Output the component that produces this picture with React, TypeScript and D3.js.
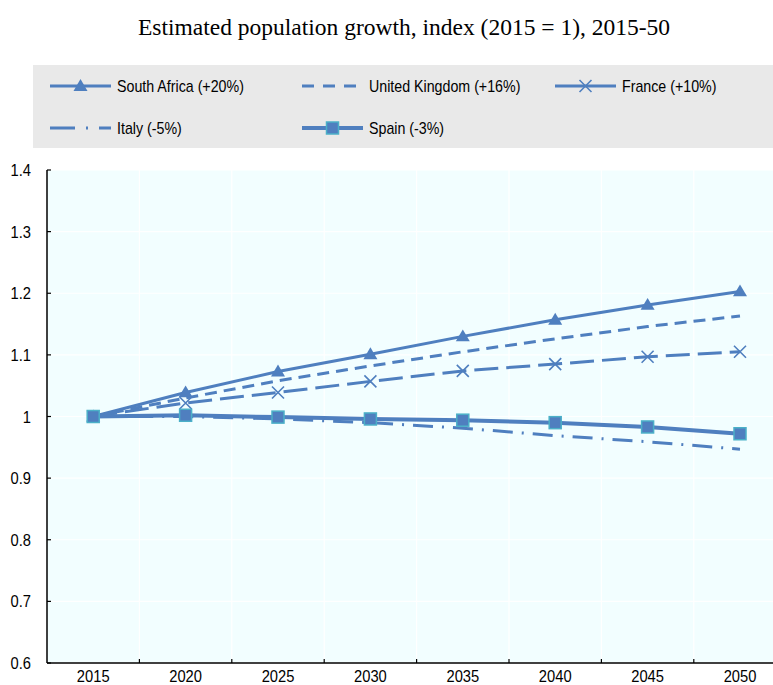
import React from "react";
import * as d3 from "d3";

const years = ["2015", "2020", "2025", "2030", "2035", "2040", "2045", "2050"];
const southAfrica = [1.0, 1.039, 1.073, 1.101, 1.13, 1.157, 1.181, 1.203];
const unitedKingdom = [1.0, 1.03, 1.058, 1.082, 1.105, 1.126, 1.146, 1.163];
const france = [1.0, 1.022, 1.039, 1.057, 1.074, 1.085, 1.097, 1.105];
const italy = [1.0, 1.0, 0.996, 0.99, 0.981, 0.969, 0.959, 0.947];
const spain = [1.0, 1.002, 0.999, 0.996, 0.994, 0.99, 0.983, 0.972];
const yTicks = [0.6, 0.7, 0.8, 0.9, 1, 1.1, 1.2, 1.3, 1.4];

const BLUE = "#4f7fbf";
const CYAN = "#4bb0c8";

type Marker = "triangle" | "x" | "square" | "none";
const series: { name: string; values: number[]; dash: string; marker: Marker; width: number; legendDash: string }[] = [
  { name: "South Africa (+20%)", values: southAfrica, dash: "", marker: "triangle", width: 3, legendDash: "" },
  { name: "United Kingdom (+16%)", values: unitedKingdom, dash: "12,7", marker: "none", width: 3, legendDash: "12,9" },
  { name: "France (+10%)", values: france, dash: "24,8", marker: "x", width: 3, legendDash: "" },
  { name: "Italy (-5%)", values: italy, dash: "20,9,2,9", marker: "none", width: 3, legendDash: "25,11,2,11" },
  { name: "Spain (-3%)", values: spain, dash: "", marker: "square", width: 4, legendDash: "" },
];

function MarkerShape({ type, x, y }: { type: Marker; x: number; y: number }) {
  if (type === "triangle") {
    const s = 7;
    return <path d={`M${x},${y - s}L${x + s},${y + s * 0.7}L${x - s},${y + s * 0.7}Z`} fill={BLUE} />;
  }
  if (type === "x") {
    const s = 6;
    return (
      <path d={`M${x - s},${y - s}L${x + s},${y + s}M${x - s},${y + s}L${x + s},${y - s}`} stroke={BLUE} strokeWidth={1.6} fill="none" />
    );
  }
  if (type === "square") {
    return <rect x={x - 6} y={y - 6} width={12} height={12} fill={BLUE} stroke={CYAN} strokeWidth={1.5} />;
  }
  return null;
}

function NText({ x, y, children, anchor = "start", size = 16, sx = 0.89 }: { x: number; y: number; children: React.ReactNode; anchor?: string; size?: number; sx?: number }) {
  return (
    <text transform={`translate(${x},${y}) scale(${sx},1)`} textAnchor={anchor} fontSize={size} fill="#000">
      {children}
    </text>
  );
}

export default function App() {
  const W = 773;
  const H = 685;
  const left = 47;
  const top = 170;
  const bottom = 663;
  const x = d3.scaleBand<string>().domain(years).range([left, left + 8 * 92.4]);
  const y = d3.scaleLinear().domain([0.6, 1.4]).range([bottom, top]);
  const cx = (yr: string) => (x(yr) as number) + x.bandwidth() / 2;
  const line = d3
    .line<number>()
    .x((_, i) => cx(years[i]))
    .y((d) => y(d));

  const legendPos = [
    { lx: 50, ty: 86 },
    { lx: 302, ty: 86 },
    { lx: 555, ty: 86 },
    { lx: 50, ty: 128 },
    { lx: 302, ty: 128 },
  ];

  return (
    <svg width={W} height={H} style={{ position: "absolute", left: 0, top: 0 }} fontFamily="'Liberation Sans', Arial, sans-serif">
      <text x={404} y={35} textAnchor="middle" fontFamily="'Liberation Serif', 'Times New Roman', serif" fontSize={23.5} fill="#000">
        Estimated population growth, index (2015 = 1), 2015-50
      </text>
      <rect x={33} y={65} width={740} height={83} fill="#e9e9e9" />
      {series.map((s, i) => {
        const p = legendPos[i];
        const x1 = p.lx;
        const x2 = p.lx + 61;
        return (
          <g key={s.name}>
            <line x1={x1} x2={x2} y1={p.ty} y2={p.ty} stroke={BLUE} strokeWidth={s.width} strokeDasharray={s.legendDash} />
            <MarkerShape type={s.marker} x={(x1 + x2) / 2} y={p.ty} />
            <NText x={x2 + 6} y={p.ty + 6}>{s.name}</NText>
          </g>
        );
      })}
      <rect x={left} y={top} width={W - left} height={bottom - top} fill="#f2feff" />
      {yTicks.map((t) => (
        <line key={"g" + t} x1={left} x2={W} y1={y(t)} y2={y(t)} stroke="#fff" strokeWidth={1.2} />
      ))}
      {years.slice(1).map((yr) => (
        <line key={"v" + yr} x1={x(yr) as number} x2={x(yr) as number} y1={top} y2={bottom} stroke="#fff" strokeWidth={1.2} />
      ))}
      {series.map((s) => (
        <path key={s.name} d={line(s.values) || ""} fill="none" stroke={BLUE} strokeWidth={s.width} strokeDasharray={s.dash} strokeLinejoin="round" />
      ))}
      {series.map((s) =>
        s.values.map((v, i) => <MarkerShape key={s.name + i} type={s.marker} x={cx(years[i])} y={y(v)} />)
      )}
      <line x1={left} x2={left} y1={top} y2={bottom} stroke="#000" strokeWidth={1.5} />
      <line x1={left} x2={W} y1={bottom} y2={bottom} stroke="#000" strokeWidth={1.5} />
      {yTicks.map((t) => (
        <g key={"t" + t}>
          <line x1={left} x2={left + 4} y1={y(t)} y2={y(t)} stroke="#000" strokeWidth={1.2} />
          <NText x={31} y={y(t) + 6} anchor="end" sx={0.92}>
            {d3.format("")(t)}
          </NText>
        </g>
      ))}
      {years.slice(1).map((yr) => (
        <line key={"xt" + yr} x1={x(yr) as number} x2={x(yr) as number} y1={bottom} y2={bottom - 4} stroke="#000" strokeWidth={1.2} />
      ))}
      {years.map((yr) => (
        <NText key={"xl" + yr} x={cx(yr)} y={682} anchor="middle" sx={0.92}>
          {yr}
        </NText>
      ))}
    </svg>
  );
}
